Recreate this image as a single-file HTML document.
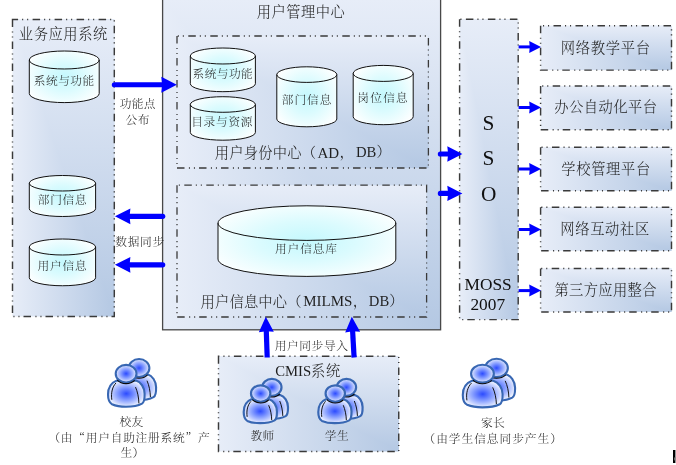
<!DOCTYPE html>
<html lang="zh-CN"><head><meta charset="utf-8"><title>用户管理中心</title>
<style>
html,body{margin:0;padding:0;background:#fff;}
body{width:676px;height:465px;overflow:hidden;}
svg{display:block;font-family:'Liberation Serif','Noto Serif CJK SC',serif;will-change:transform;}
</style></head><body>
<svg width="676" height="465" viewBox="0 0 676 465">
<defs>
<linearGradient id="gh" x1="0" y1="0" x2="1" y2="0"><stop offset="0" stop-color="#e7edf8"/><stop offset="1" stop-color="#b4c8e3"/></linearGradient>
<linearGradient id="gv" x1="0" y1="0" x2="0" y2="1"><stop offset="0" stop-color="#e7edf8"/><stop offset="1" stop-color="#b4c8e3"/></linearGradient>
<radialGradient id="cy" cx="0.5" cy="0.5" r="0.62"><stop offset="0" stop-color="#c4f8fd"/><stop offset="0.45" stop-color="#dbfbfe"/><stop offset="1" stop-color="#ffffff"/></radialGradient>
<radialGradient id="pg" cx="0.5" cy="0.5" r="0.52"><stop offset="0" stop-color="#2c4bff"/><stop offset="0.5" stop-color="#8aa1ff"/><stop offset="1" stop-color="#eef3ff"/></radialGradient>
</defs>
<rect width="676" height="465" fill="#fff"/>

<rect x="162.6" y="-1" width="278.0" height="330.8" fill="url(#gh)"/>
<polygon points="162.6,-1 440.6,-1 440.6,329.8" fill="url(#gv)"/>
<rect x="162.6" y="-2" width="278.0" height="331.8" fill="none" stroke="#484848" stroke-width="1.3"/>
<rect x="12.5" y="19.5" width="101.8" height="297.0" fill="url(#gh)"/>
<polygon points="12.5,19.5 114.3,19.5 114.3,316.5" fill="url(#gv)"/>
<path d="M12.5 19.5 V316.5 H114.3 V19.5 Z" fill="none" stroke="#3a3a3a" stroke-width="1.45" stroke-dasharray="7.5 4.4 1.1 3.9 1.1 4" stroke-dashoffset="0"/>
<rect x="177" y="36" width="251.39999999999998" height="132" fill="url(#gh)"/>
<polygon points="177,36 428.4,36 428.4,168" fill="url(#gv)"/>
<path d="M177 36 V168 H428.4 V36 Z" fill="none" stroke="#3a3a3a" stroke-width="1.3" stroke-dasharray="7.5 4.4 1.1 3.9 1.1 4" stroke-dashoffset="0"/>
<rect x="177" y="185.2" width="249.60000000000002" height="131.8" fill="url(#gh)"/>
<polygon points="177,185.2 426.6,185.2 426.6,317" fill="url(#gv)"/>
<path d="M177 185.2 V317 H426.6 V185.2 Z" fill="none" stroke="#3a3a3a" stroke-width="1.3" stroke-dasharray="7.5 4.4 1.1 3.9 1.1 4" stroke-dashoffset="0"/>
<rect x="459.6" y="19.3" width="58.60000000000002" height="300.3" fill="url(#gh)"/>
<polygon points="459.6,19.3 518.2,19.3 518.2,319.6" fill="url(#gv)"/>
<path d="M459.6 19.3 V319.6 H518.2 V19.3 Z" fill="none" stroke="#3a3a3a" stroke-width="1.45" stroke-dasharray="7.5 4.4 1.1 3.9 1.1 4" stroke-dashoffset="0"/>
<rect x="540.6" y="25.8" width="130.89999999999998" height="44.3" fill="url(#gh)"/>
<polygon points="540.6,25.8 671.5,25.8 671.5,70.1" fill="url(#gv)"/>
<path d="M540.6 25.8 V70.1 H671.5 V25.8 Z" fill="none" stroke="#3a3a3a" stroke-width="1.45" stroke-dasharray="7.5 4.4 1.1 3.9 1.1 4" stroke-dashoffset="0"/>
<rect x="540.6" y="85.9" width="130.89999999999998" height="43.900000000000006" fill="url(#gh)"/>
<polygon points="540.6,85.9 671.5,85.9 671.5,129.8" fill="url(#gv)"/>
<path d="M540.6 85.9 V129.8 H671.5 V85.9 Z" fill="none" stroke="#3a3a3a" stroke-width="1.45" stroke-dasharray="7.5 4.4 1.1 3.9 1.1 4" stroke-dashoffset="0"/>
<rect x="540.6" y="147.25" width="130.89999999999998" height="43.55000000000001" fill="url(#gh)"/>
<polygon points="540.6,147.25 671.5,147.25 671.5,190.8" fill="url(#gv)"/>
<path d="M540.6 147.25 V190.8 H671.5 V147.25 Z" fill="none" stroke="#3a3a3a" stroke-width="1.45" stroke-dasharray="7.5 4.4 1.1 3.9 1.1 4" stroke-dashoffset="0"/>
<rect x="540.6" y="207.3" width="130.89999999999998" height="43.44999999999999" fill="url(#gh)"/>
<polygon points="540.6,207.3 671.5,207.3 671.5,250.75" fill="url(#gv)"/>
<path d="M540.6 207.3 V250.75 H671.5 V207.3 Z" fill="none" stroke="#3a3a3a" stroke-width="1.45" stroke-dasharray="7.5 4.4 1.1 3.9 1.1 4" stroke-dashoffset="0"/>
<rect x="540.6" y="268.5" width="130.89999999999998" height="43.39999999999998" fill="url(#gh)"/>
<polygon points="540.6,268.5 671.5,268.5 671.5,311.9" fill="url(#gv)"/>
<path d="M540.6 268.5 V311.9 H671.5 V268.5 Z" fill="none" stroke="#3a3a3a" stroke-width="1.45" stroke-dasharray="7.5 4.4 1.1 3.9 1.1 4" stroke-dashoffset="0"/>
<rect x="218.5" y="356.3" width="180.25" height="95.19999999999999" fill="url(#gh)"/>
<polygon points="218.5,356.3 398.75,356.3 398.75,451.5" fill="url(#gv)"/>
<path d="M218.5 356.3 V451.5 H398.75 V356.3 Z" fill="none" stroke="#3a3a3a" stroke-width="1.45" stroke-dasharray="7.5 4.4 1.1 3.9 1.1 4" stroke-dashoffset="0"/>
<path d="M29.3 60 A34.95 9 0 0 1 99.2 60 L99.2 93.6 A34.95 9 0 0 1 29.3 93.6 Z" fill="url(#cy)" stroke="#111" stroke-width="1"/>
<path d="M29.3 60 A34.95 9 0 0 0 99.2 60" fill="none" stroke="#111" stroke-width="1"/>
<path d="M29.3 183.25 A33.15 7.75 0 0 1 95.6 183.25 L95.6 208.75 A33.15 7.75 0 0 1 29.3 208.75 Z" fill="url(#cy)" stroke="#111" stroke-width="1"/>
<path d="M29.3 183.25 A33.15 7.75 0 0 0 95.6 183.25" fill="none" stroke="#111" stroke-width="1"/>
<path d="M29.3 247 A33.15 8 0 0 1 95.6 247 L95.6 277.75 A33.15 8 0 0 1 29.3 277.75 Z" fill="url(#cy)" stroke="#111" stroke-width="1"/>
<path d="M29.3 247 A33.15 8 0 0 0 95.6 247" fill="none" stroke="#111" stroke-width="1"/>
<path d="M190.3 56 A32.55 8 0 0 1 255.4 56 L255.4 83.7 A32.55 8 0 0 1 190.3 83.7 Z" fill="url(#cy)" stroke="#111" stroke-width="1"/>
<path d="M190.3 56 A32.55 8 0 0 0 255.4 56" fill="none" stroke="#111" stroke-width="1"/>
<path d="M190.3 104.5 A32.55 7.8 0 0 1 255.4 104.5 L255.4 132.39999999999998 A32.55 7.8 0 0 1 190.3 132.39999999999998 Z" fill="url(#cy)" stroke="#111" stroke-width="1"/>
<path d="M190.3 104.5 A32.55 7.8 0 0 0 255.4 104.5" fill="none" stroke="#111" stroke-width="1"/>
<path d="M276.8 74.6 A30.0 7.8 0 0 1 336.8 74.6 L336.8 119.0 A30.0 7.8 0 0 1 276.8 119.0 Z" fill="url(#cy)" stroke="#111" stroke-width="1"/>
<path d="M276.8 74.6 A30.0 7.8 0 0 0 336.8 74.6" fill="none" stroke="#111" stroke-width="1"/>
<path d="M353.2 73.4 A30.0 8 0 0 1 413.2 73.4 L413.2 116.7 A30.0 8 0 0 1 353.2 116.7 Z" fill="url(#cy)" stroke="#111" stroke-width="1"/>
<path d="M353.2 73.4 A30.0 8 0 0 0 413.2 73.4" fill="none" stroke="#111" stroke-width="1"/>
<path d="M218 223.10000000000002 A88.9 17.3 0 0 1 395.8 223.10000000000002 L395.8 259.09999999999997 A88.9 17.3 0 0 1 218 259.09999999999997 Z" fill="url(#cy)" stroke="#111" stroke-width="1"/>
<path d="M218 223.10000000000002 A88.9 17.3 0 0 0 395.8 223.10000000000002" fill="none" stroke="#111" stroke-width="1"/>
<line x1="114.40" y1="84.75" x2="163.10" y2="84.75" stroke="#0000ff" stroke-width="5.2" stroke-linecap="round"/>
<polygon points="176.80,84.75 161.30,92.65 162.10,84.75 161.30,76.85" fill="#0000ff"/>
<line x1="162.70" y1="216.30" x2="128.60" y2="216.30" stroke="#0000ff" stroke-width="5.2" stroke-linecap="round"/>
<polygon points="114.90,216.30 130.40,208.40 129.60,216.30 130.40,224.20" fill="#0000ff"/>
<line x1="162.70" y1="264.80" x2="128.60" y2="264.80" stroke="#0000ff" stroke-width="5.2" stroke-linecap="round"/>
<polygon points="114.90,264.80 130.40,256.90 129.60,264.80 130.40,272.70" fill="#0000ff"/>
<line x1="440.40" y1="154.00" x2="449.10" y2="154.00" stroke="#0000ff" stroke-width="5.2" stroke-linecap="round"/>
<polygon points="462.40,154.00 447.30,161.65 448.10,154.00 447.30,146.35" fill="#0000ff"/>
<line x1="440.40" y1="193.40" x2="449.10" y2="193.40" stroke="#0000ff" stroke-width="5.2" stroke-linecap="round"/>
<polygon points="462.40,193.40 447.30,201.05 448.10,193.40 447.30,185.75" fill="#0000ff"/>
<line x1="518.60" y1="46.90" x2="530.70" y2="46.90" stroke="#0000ff" stroke-width="3" stroke-linecap="butt"/>
<polygon points="541.00,46.90 529.20,52.90 529.70,46.90 529.20,40.90" fill="#0000ff"/>
<line x1="518.60" y1="107.50" x2="530.70" y2="107.50" stroke="#0000ff" stroke-width="3" stroke-linecap="butt"/>
<polygon points="541.00,107.50 529.20,113.50 529.70,107.50 529.20,101.50" fill="#0000ff"/>
<line x1="518.60" y1="169.00" x2="530.70" y2="169.00" stroke="#0000ff" stroke-width="3" stroke-linecap="butt"/>
<polygon points="541.00,169.00 529.20,175.00 529.70,169.00 529.20,163.00" fill="#0000ff"/>
<line x1="518.60" y1="229.50" x2="530.70" y2="229.50" stroke="#0000ff" stroke-width="3" stroke-linecap="butt"/>
<polygon points="541.00,229.50 529.20,235.50 529.70,229.50 529.20,223.50" fill="#0000ff"/>
<line x1="518.60" y1="290.60" x2="530.70" y2="290.60" stroke="#0000ff" stroke-width="3" stroke-linecap="butt"/>
<polygon points="541.00,290.60 529.20,296.60 529.70,290.60 529.20,284.60" fill="#0000ff"/>
<line x1="267.20" y1="357.50" x2="266.27" y2="330.29" stroke="#0000ff" stroke-width="5.2" stroke-linecap="butt"/>
<polygon points="265.80,316.70 273.82,331.83 266.30,331.29 258.83,332.35" fill="#0000ff"/>
<line x1="354.10" y1="357.50" x2="352.57" y2="330.28" stroke="#0000ff" stroke-width="5.2" stroke-linecap="butt"/>
<polygon points="351.80,316.70 360.15,331.65 352.62,331.28 345.18,332.50" fill="#0000ff"/>
<path d="M128.00 374.20 C123.00 376.20 119.50 381.20 119.50 388.20 C119.50 393.20 120.50 396.20 123.50 397.80 C128.50 400.00 133.50 400.30 137.50 400.30 C143.50 400.30 149.50 399.40 153.50 397.20 C156.00 395.70 156.20 391.20 156.10 387.20 C155.90 381.20 152.50 375.70 147.50 374.20 Z" fill="url(#pg)" stroke="#3867b3" stroke-width="2.1" stroke-linejoin="round"/>
<path d="M127.50 376.50 C124.00 380.20 122.30 386.20 123.30 393.40" fill="none" stroke="#0a0a0a" stroke-width="0.95"/>
<path d="M147.00 380.70 C149.00 385.20 150.30 391.20 150.40 397.00" fill="none" stroke="#0a0a0a" stroke-width="0.95"/>
<ellipse cx="139.05" cy="368.05" rx="10.34" ry="8.99" fill="url(#pg)" stroke="#3867b3" stroke-width="2.1"/>
<path d="M130.25 374.57 A11.49 10.14 0 0 0 147.59 374.83" fill="none" stroke="#0a0a0a" stroke-width="1.1"/>
<path d="M116.50 380.60 C111.50 382.60 108.00 387.60 108.00 394.60 C108.00 399.60 109.00 402.60 112.00 404.20 C117.00 406.40 122.00 406.70 126.00 406.70 C132.00 406.70 138.00 405.80 142.00 403.60 C144.50 402.10 144.70 397.60 144.60 393.60 C144.40 387.60 141.00 382.10 136.00 380.60 Z" fill="url(#pg)" stroke="#3867b3" stroke-width="2.1" stroke-linejoin="round"/>
<path d="M116.00 382.90 C112.50 386.60 110.80 392.60 111.80 399.80" fill="none" stroke="#0a0a0a" stroke-width="0.95"/>
<path d="M135.50 387.10 C137.50 391.60 138.80 397.60 138.90 403.40" fill="none" stroke="#0a0a0a" stroke-width="0.95"/>
<ellipse cx="126.10" cy="373.65" rx="10.39" ry="8.78" fill="url(#pg)" stroke="#3867b3" stroke-width="2.1"/>
<path d="M117.26 380.03 A11.54 9.93 0 0 0 134.68 380.29" fill="none" stroke="#0a0a0a" stroke-width="1.1"/>
<path d="M484.53 374.23 C479.09 376.27 475.29 381.37 475.29 388.51 C475.29 393.61 476.38 396.67 479.64 398.30 C485.07 400.55 490.51 400.85 494.86 400.85 C501.38 400.85 507.90 399.94 512.25 397.69 C514.97 396.16 515.19 391.57 515.08 387.49 C514.86 381.37 511.16 375.76 505.73 374.23 Z" fill="url(#pg)" stroke="#3867b3" stroke-width="2.1" stroke-linejoin="round"/>
<path d="M483.99 376.58 C480.18 380.35 478.33 386.47 479.42 393.82" fill="none" stroke="#0a0a0a" stroke-width="0.95"/>
<path d="M505.19 380.86 C507.36 385.45 508.77 391.57 508.88 397.49" fill="none" stroke="#0a0a0a" stroke-width="0.95"/>
<ellipse cx="496.54" cy="367.96" rx="11.33" ry="9.19" fill="url(#pg)" stroke="#3867b3" stroke-width="2.1"/>
<path d="M486.98 374.60 A12.48 10.34 0 0 0 505.82 374.88" fill="none" stroke="#0a0a0a" stroke-width="1.1"/>
<path d="M472.03 380.76 C466.59 382.80 462.79 387.90 462.79 395.04 C462.79 400.14 463.87 403.20 467.14 404.83 C472.57 407.08 478.01 407.38 482.36 407.38 C488.88 407.38 495.40 406.46 499.75 404.22 C502.47 402.69 502.68 398.10 502.58 394.02 C502.36 387.90 498.66 382.29 493.23 380.76 Z" fill="url(#pg)" stroke="#3867b3" stroke-width="2.1" stroke-linejoin="round"/>
<path d="M471.48 383.11 C467.68 386.88 465.83 393.00 466.92 400.34" fill="none" stroke="#0a0a0a" stroke-width="0.95"/>
<path d="M492.68 387.39 C494.86 391.98 496.27 398.10 496.38 404.02" fill="none" stroke="#0a0a0a" stroke-width="0.95"/>
<ellipse cx="482.46" cy="373.67" rx="11.39" ry="8.97" fill="url(#pg)" stroke="#3867b3" stroke-width="2.1"/>
<path d="M472.86 380.18 A12.54 10.12 0 0 0 491.78 380.45" fill="none" stroke="#0a0a0a" stroke-width="1.1"/>
<path d="M262.48 395.05 C257.95 396.89 254.77 401.47 254.77 407.88 C254.77 412.46 255.68 415.21 258.40 416.67 C262.93 418.69 267.47 418.96 271.10 418.96 C276.54 418.96 281.98 418.14 285.61 416.12 C287.87 414.75 288.06 410.63 287.97 406.96 C287.78 401.47 284.70 396.43 280.17 395.05 Z" fill="url(#pg)" stroke="#3867b3" stroke-width="2.2" stroke-linejoin="round"/>
<path d="M262.03 397.16 C258.85 400.55 257.31 406.05 258.22 412.64" fill="none" stroke="#0a0a0a" stroke-width="0.95"/>
<path d="M279.71 401.01 C281.53 405.13 282.70 410.63 282.80 415.94" fill="none" stroke="#0a0a0a" stroke-width="0.95"/>
<ellipse cx="271.87" cy="387.31" rx="9.63" ry="8.45" fill="url(#pg)" stroke="#3867b3" stroke-width="2.2"/>
<path d="M263.57 393.51 A10.83 9.65 0 0 0 279.91 393.77" fill="none" stroke="#0a0a0a" stroke-width="1.1"/>
<path d="M251.42 399.27 C246.88 401.10 243.71 405.68 243.71 412.09 C243.71 416.67 244.61 419.42 247.33 420.89 C251.87 422.90 256.40 423.18 260.03 423.18 C265.47 423.18 270.91 422.35 274.54 420.34 C276.81 418.96 276.99 414.84 276.90 411.18 C276.72 405.68 273.64 400.64 269.10 399.27 Z" fill="url(#pg)" stroke="#3867b3" stroke-width="2.2" stroke-linejoin="round"/>
<path d="M250.96 401.37 C247.79 404.76 246.25 410.26 247.15 416.86" fill="none" stroke="#0a0a0a" stroke-width="0.95"/>
<path d="M268.65 405.22 C270.46 409.34 271.64 414.84 271.73 420.15" fill="none" stroke="#0a0a0a" stroke-width="0.95"/>
<ellipse cx="260.67" cy="393.54" rx="9.67" ry="8.25" fill="url(#pg)" stroke="#3867b3" stroke-width="2.2"/>
<path d="M252.34 399.62 A10.87 9.45 0 0 0 268.75 399.87" fill="none" stroke="#0a0a0a" stroke-width="1.1"/>
<path d="M337.08 395.05 C332.55 396.89 329.37 401.47 329.37 407.88 C329.37 412.46 330.28 415.21 333.00 416.67 C337.53 418.69 342.07 418.96 345.70 418.96 C351.14 418.96 356.58 418.14 360.21 416.12 C362.47 414.75 362.66 410.63 362.57 406.96 C362.38 401.47 359.30 396.43 354.77 395.05 Z" fill="url(#pg)" stroke="#3867b3" stroke-width="2.2" stroke-linejoin="round"/>
<path d="M336.63 397.16 C333.45 400.55 331.91 406.05 332.82 412.64" fill="none" stroke="#0a0a0a" stroke-width="0.95"/>
<path d="M354.31 401.01 C356.13 405.13 357.30 410.63 357.40 415.94" fill="none" stroke="#0a0a0a" stroke-width="0.95"/>
<ellipse cx="346.47" cy="387.31" rx="9.63" ry="8.45" fill="url(#pg)" stroke="#3867b3" stroke-width="2.2"/>
<path d="M338.17 393.51 A10.83 9.65 0 0 0 354.51 393.77" fill="none" stroke="#0a0a0a" stroke-width="1.1"/>
<path d="M326.02 399.27 C321.48 401.10 318.31 405.68 318.31 412.09 C318.31 416.67 319.21 419.42 321.93 420.89 C326.47 422.90 331.00 423.18 334.63 423.18 C340.07 423.18 345.51 422.35 349.14 420.34 C351.41 418.96 351.59 414.84 351.50 411.18 C351.32 405.68 348.24 400.64 343.70 399.27 Z" fill="url(#pg)" stroke="#3867b3" stroke-width="2.2" stroke-linejoin="round"/>
<path d="M325.56 401.37 C322.39 404.76 320.85 410.26 321.75 416.86" fill="none" stroke="#0a0a0a" stroke-width="0.95"/>
<path d="M343.25 405.22 C345.06 409.34 346.24 414.84 346.33 420.15" fill="none" stroke="#0a0a0a" stroke-width="0.95"/>
<ellipse cx="335.27" cy="393.54" rx="9.67" ry="8.25" fill="url(#pg)" stroke="#3867b3" stroke-width="2.2"/>
<path d="M326.94 399.62 A10.87 9.45 0 0 0 343.35 399.87" fill="none" stroke="#0a0a0a" stroke-width="1.1"/>
<text x="18.86" y="38.66" font-size="14.3" font-weight="300" fill="#1f1f1f" letter-spacing="0.53">业务应用系统</text>
<text x="256.68" y="17.40" font-size="14.3" font-weight="300" fill="#1f1f1f" letter-spacing="0.49">用户管理中心</text>
<text x="33.66" y="84.96" font-size="11.7" font-weight="300" fill="#1f1f1f" letter-spacing="0.55">系统与功能</text>
<text x="37.78" y="203.66" font-size="11.7" font-weight="300" fill="#1f1f1f" letter-spacing="0.686">部门信息</text>
<text x="37.38" y="270.10" font-size="11.7" font-weight="300" fill="#1f1f1f" letter-spacing="0.819">用户信息</text>
<text x="192.50" y="77.82" font-size="11.7" font-weight="300" fill="#1f1f1f" letter-spacing="0.45">系统与功能</text>
<text x="191.23" y="125.66" font-size="11.7" font-weight="300" fill="#1f1f1f" letter-spacing="0.7">目录与资源</text>
<text x="281.86" y="103.76" font-size="11.7" font-weight="300" fill="#1f1f1f" letter-spacing="0.936">部门信息</text>
<text x="357.30" y="102.40" font-size="11.7" font-weight="300" fill="#1f1f1f" letter-spacing="1.229">岗位信息</text>
<text x="214.78" y="158.07" font-size="14.3" font-weight="300" fill="#1f1f1f" letter-spacing="0.203">用户身份中心（</text>
<text x="317.45" y="157.75" font-size="15.0" font-weight="400" fill="#1f1f1f">AD</text>
<text x="339.48" y="157.32" font-size="14.3" font-weight="300" fill="#1f1f1f" letter-spacing="2.25">，<tspan font-size="14.67" letter-spacing="0" font-weight="400">DB</tspan>）</text>
<text x="200.58" y="306.60" font-size="14.3" font-weight="300" fill="#1f1f1f" letter-spacing="0.137">用户信息中心（</text>
<text x="303.20" y="306.00" font-size="15.0" font-weight="400" fill="#1f1f1f">MILMS</text>
<text x="352.69" y="305.86" font-size="14.3" font-weight="300" fill="#1f1f1f" letter-spacing="1.85">，<tspan font-size="14.67" letter-spacing="0" font-weight="400">DB</tspan>）</text>
<text x="275.04" y="253.31" font-size="11.7" font-weight="300" fill="#1f1f1f" letter-spacing="0.87">用户信息库</text>
<text x="119.65" y="108.30" font-size="11.7" font-weight="300" fill="#1f1f1f" letter-spacing="0.35">功能点</text>
<text x="125.60" y="123.62" font-size="11.7" font-weight="300" fill="#1f1f1f" letter-spacing="0.35">公布</text>
<text x="115.20" y="245.98" font-size="11.7" font-weight="300" fill="#1f1f1f" letter-spacing="0.753">数据同步</text>
<text x="274.64" y="350.26" font-size="11.7" font-weight="300" fill="#1f1f1f" letter-spacing="0.63">用户同步导入</text>
<text x="275.28" y="376.20" font-size="14.3" font-weight="300" fill="#1f1f1f" letter-spacing="0.57"><tspan font-size="14.67" letter-spacing="0" font-weight="400">CMIS</tspan>系统</text>
<text x="250.44" y="439.98" font-size="11.7" font-weight="300" fill="#1f1f1f" letter-spacing="0.35">教师</text>
<text x="324.85" y="439.98" font-size="11.7" font-weight="300" fill="#1f1f1f" letter-spacing="0.35">学生</text>
<text x="119.38" y="425.93" font-size="11.7" font-weight="300" fill="#1f1f1f" letter-spacing="0.35">校友</text>
<text x="48.38" y="441.60" font-size="11.7" font-weight="300" fill="#1f1f1f" letter-spacing="0.767">（由<tspan font-family="'Noto Serif CJK SC'">“</tspan>用户自助注册系统<tspan font-family="'Noto Serif CJK SC'">”</tspan>产</text>
<text x="120.40" y="457.20" font-size="11.7" font-weight="300" fill="#1f1f1f" letter-spacing="0.35">生）</text>
<text x="481.09" y="427.32" font-size="11.7" font-weight="300" fill="#1f1f1f" letter-spacing="0.35">家长</text>
<text x="423.50" y="443.40" font-size="11.7" font-weight="300" fill="#1f1f1f" letter-spacing="0.982">（由学生信息同步产生）</text>
<text x="482.50" y="129.90" font-size="21.33" font-weight="400" fill="#101010">S</text>
<text x="482.50" y="165.00" font-size="21.33" font-weight="400" fill="#101010">S</text>
<text x="481.08" y="200.75" font-size="21.33" font-weight="400" fill="#101010">O</text>
<text x="464.55" y="289.82" font-size="17.33" font-weight="400" fill="#101010">MOSS</text>
<text x="470.44" y="310.32" font-size="17.33" font-weight="400" fill="#101010">2007</text>
<text x="560.64" y="52.96" font-size="14.3" font-weight="300" fill="#1f1f1f" letter-spacing="0.73">网络教学平台</text>
<text x="554.30" y="112.42" font-size="14.3" font-weight="300" fill="#1f1f1f" letter-spacing="0.435">办公自动化平台</text>
<text x="561.25" y="173.68" font-size="14.3" font-weight="300" fill="#1f1f1f" letter-spacing="0.65">学校管理平台</text>
<text x="560.36" y="233.61" font-size="14.3" font-weight="300" fill="#1f1f1f" letter-spacing="0.61">网络互动社区</text>
<text x="554.43" y="295.07" font-size="14.3" font-weight="300" fill="#1f1f1f" letter-spacing="0.339">第三方应用整合</text>
<rect x="673" y="450" width="2.4" height="13" fill="#000"/>
<circle cx="676.3" cy="459" r="2.2" fill="#8a8a8a"/>
</svg></body></html>
